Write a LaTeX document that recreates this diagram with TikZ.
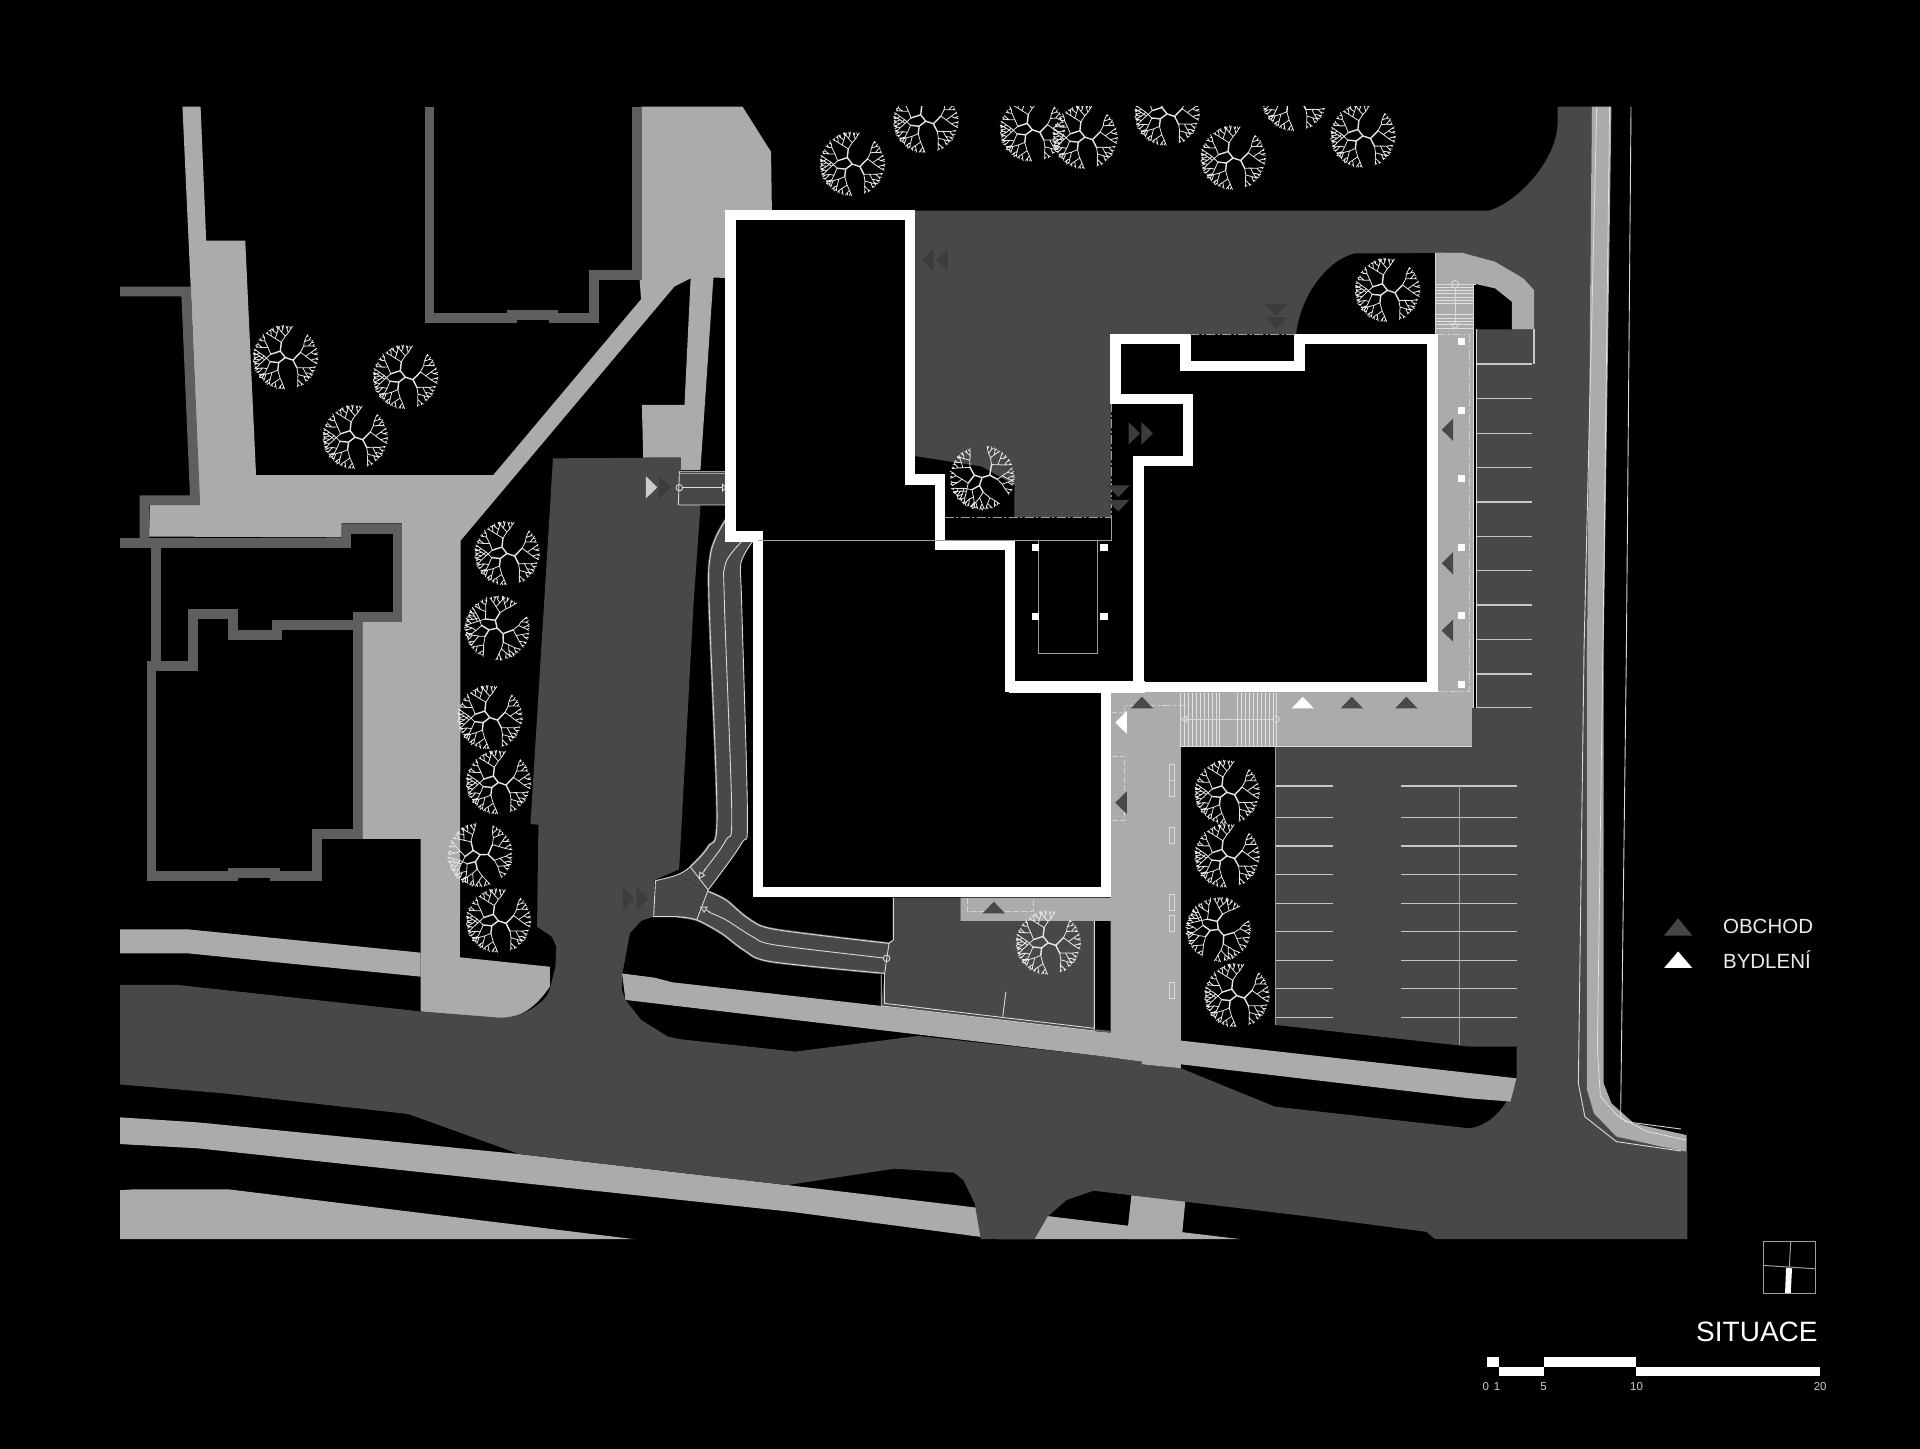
\documentclass[tikz,border=0pt]{standalone}
\usepackage{fontspec}
\setmainfont{Liberation Sans}
\usetikzlibrary{arrows.meta}
\definecolor{lightg}{HTML}{ABABAB}
\definecolor{darkg}{HTML}{484848}
\definecolor{wallg}{HTML}{5E5E5E}
\definecolor{tridark}{HTML}{3C3C3C}
\definecolor{treecol}{HTML}{E6E6E6}
\tikzset{
  wall/.style={draw=wallg,line width=9.8pt,miter limit=10},
  bldg/.style={draw=white,fill=black,line width=10.4pt,line join=miter},
  thin/.style={draw=#1,line width=.9pt},
  thin/.default={white!85!black},
  gline/.style={draw=white!62!black,line width=1pt},
  pline/.style={draw=white!78!black,line width=1.3pt},
  dashline/.style={draw=white!82!black,line width=1pt,dash pattern=on 6pt off 2.5pt},
  dashdot/.style={draw=white!82!black,line width=1pt,dash pattern=on 9pt off 2.5pt on 2pt off 2.5pt},
  treefinest/.style={draw=treecol,line width=.8pt,line cap=round},
  treemainst/.style={draw=treecol,line width=1.4pt,line cap=round},
  opentip/.style={-{Triangle[open,length=7pt,width=7pt]}},
  halo/.style={draw=wallg,line width=2.4pt},
}
% --- one tree symbol, generated once as two path strings
\pgfmathsetseed{23}
\gdef\treemain{}\gdef\treefine{}
\def\TB#1#2#3#4#5{%
 \begingroup
 \ifcase#5 \def\rr{26}\or\def\rr{24}\or\def\rr{21}\or\def\rr{17}\or\def\rr{12.5}\else\def\rr{7}\fi
 \pgfmathsetmacro\th{#3+(rand)*#4*0.35}%
 \pgfmathsetmacro\rn{\rr+(rand)*0.7}%
 \pgfmathsetmacro\xe{\rn*cos(\th)}%
 \pgfmathsetmacro\ye{\rn*sin(\th)}%
 \ifnum#5>3
   \xdef\treemain{\treemain (#1,#2)--(\xe,\ye) }%
 \else
   \xdef\treefine{\treefine (#1,#2)--(\xe,\ye) }%
 \fi
 \ifnum#5>0
   \pgfmathsetmacro\ta{\th-#4/2}%
   \pgfmathsetmacro\tb{\th+#4/2}%
   \pgfmathsetmacro\hw{#4/2}%
   \edef\nexta{\noexpand\TB{\xe}{\ye}{\ta}{\hw}{\the\numexpr#5-1\relax}}%
   \edef\nextb{\noexpand\TB{\xe}{\ye}{\tb}{\hw}{\the\numexpr#5-1\relax}}%
   \nexta\nextb
 \fi
 \endgroup}
\TB{0}{0}{-108}{58}{5}
\TB{0}{0}{14}{58}{5}
\TB{0}{0}{132}{58}{5}
\newcommand\ptree[3]{%
  \draw[treefinest,shift={(#1,#2)},rotate=#3] \treefine;
  \draw[treemainst,shift={(#1,#2)},rotate=#3] \treemain;}
% --- small triangles: tip at (#1,#2)
\newcommand\trU[3]{\fill[#3] (#1,#2)--({#1-9.2},{#2+9.6})--({#1+9.2},{#2+9.6})--cycle;}
\newcommand\trD[3]{\fill[#3] (#1,#2)--({#1-9.2},{#2-9.6})--({#1+9.2},{#2-9.6})--cycle;}
\newcommand\trL[3]{\fill[#3] (#1,#2)--({#1+9.4},{#2-9.2})--({#1+9.4},{#2+9.2})--cycle;}
\newcommand\trR[3]{\fill[#3] (#1,#2)--({#1-9.4},{#2-9.2})--({#1-9.4},{#2+9.2})--cycle;}
\newcommand\sq[2]{\fill[white] ({#1-2.9},{#2-2.9}) rectangle ({#1+2.9},{#2+2.9});}
\begin{document}
\begin{tikzpicture}[x=1.22449pt,y=-1.22449pt]
\fill[black] (0,0) rectangle (1568,1183.3);
\useasboundingbox (0,0) rectangle (1568,1183.3);
% ---------- light paving, upper left
\fill[lightg] (149,87)--(163.8,87)--(168.4,196.5)--(200.3,196.5)--(209.1,388)--(402.8,388)--(523.5,244.4)--(522.4,228.7)--(523.5,87)--(606.3,87)--(629.7,124)--(630.4,175)--(595,175)--(595,227)--(582.6,226.7)--(572,384)--(556,384)--(556,373.7)--(525.3,373.7)--(524.2,330.7)--(559,330.7)--(564,227.3)--(550.8,234)--(376.2,441.5)--(375.6,781.8)--(449,789.5)--(449,805.8)..controls (438,822) and (425,832) .. (406.9,832)--(343.5,826)--(343.5,685)--(295.9,685)--(295.9,503)--(328.4,503)--(328.4,427.4)--(279,427.4)--(279,438.8)--(121.7,438.2)--(122.4,412.4)--(163,412.4)--(155.7,234)--cycle;
% ---------- walls
\draw[wall] (98,238)--(152,238)--(159.3,408.5)--(118,408.5)--(118,443);
\draw[wall] (98,443.2)--(283,443.2)--(283,432)--(324.7,432)--(324.7,503.6)--(292,503.6);
\draw[wall] (127.1,443)--(127.1,541);
\draw[wall] (292,499.6)--(292,681)--(258.6,681)--(258.6,715.4)--(224.5,715.4)--(224.5,712.7)--(190,712.7)--(190,715.4)--(123.8,715.4)--(123.8,544)--(157.9,544)--(157.9,501.7)--(190,501.7)--(190,518.6)--(226.4,518.6)--(226.4,510.4)--(296,510.4);
\draw[wall] (520,87)--(520,224.6)--(485,224.6)--(485,260)--(452,260)--(452,257)--(418,257)--(418,260)--(350.7,260)--(350.7,87);
% ---------- light street strips
\fill[lightg] (98,759)--(153.8,759)--(343.5,778)--(343.5,797.6)--(153.8,778.6)--(98,778.6)--cycle;
\fill[lightg] (98,912.5)--(161.7,916.6)--(424,942.5)--(643,967.8)--(1013.5,1012)--(815,1012)--(646,989.6)--(161.7,937.8)--(98,934.3)--cycle;
\fill[lightg] (924,976)--(968,981)--(965,1012)--(920,1012)--cycle;
\fill[lightg] (98,972)--(108.5,971.3)--(186.7,971.3)--(518,1012)--(98,1012)--cycle;
% ---------- roads
\fill[darkg] (451.6,374.3)--(556,373.7)--(556,385)--(572,413.8)--(566.6,490)--(554.6,710)--(534.5,718.6)--(533.8,748.6)--(523.6,752)--(514.5,762)--(508.3,795)--(507.9,808.5)--(510.8,816.6)--(523.6,833)--(545.5,846.6)--(556.4,848.8)--(649.4,858.8)--(749.6,846)--(898,862.4)--(932.6,867)--(932.6,869.2)--(964.4,872.4)--(1041,903.7)--(1199.5,921.4)..controls (1218,920) and (1234,900) .. (1238.5,880.6)--(1238.5,854.7)--(1199.5,854.7)--(1041.7,837)--(1041.7,609.7)--(1202,609.7)--(1202,578)--(1205.4,578)--(1205.4,269)--(1252.8,269)--(1252.8,236.8)--(1244,227.3)--(1221,213.7)--(1193.7,206.3)--(1106,207)..controls (1085,212) and (1062,240) .. (1058.5,273)--(907.3,273)--(907.3,422.4)--(828.4,422.4)--(828.4,396)--(801.8,381)--(747,372.4)--(747,172)--(1216,172)..controls (1240,165) and (1272,130) .. (1272,100)--(1272,87)--(1300,87)--(1296,531)--(1296,890)--(1301.6,909.2)--(1320,928.2)--(1356.3,936.4)--(1378,940.5)--(1378,1012)--(1172,1012)--(1165,1006)--(1069.8,993.6)--(893,972.4)--(871,980)--(855.4,993.6)--(844.8,1012)--(801,1012)--(796,982.7)--(786.7,963.7)--(779.2,957.7)--(730.4,954.4)--(643,967.8)--(424.2,942.5)--(333.5,909.8)--(183.6,893)--(98,885.6)--(98,804.4)--(145.6,804.4)--(343.5,826)--(406.9,831)..controls (425,832) and (445,820) .. (448.8,808.5)--(453.6,789.4)--(454.3,773)--(450.7,765)--(438.6,756.8)--(439.7,673.5)--(433.2,673)--(444.5,490)--cycle;
% ---------- dark court with the lane
\fill[darkg] (729.6,733)--(729.6,767.6)--(726,769)--(722.3,796)--(719.7,821.5)--(893.7,842)--(893.7,752)--(784,752)--(784,733)--cycle;
% bridge
\fill[darkg] (554,385)--(597,385)--(597,412.4)--(554,412.4)--cycle;
\draw[gline] (555.3,385.2)--(597,385.2) (555.3,387)--(597,387);
\draw[thin] (554,412.4)--(597,412.4) (554.8,385)--(554,412.4);
\draw[thin] (557.5,398.3)--(590,398.3);
\draw[thin] (554.8,398.3) circle[radius=2.7];
\draw[thin] (593,398.3)--(590,395.5)--(590,401)--cycle;
% ramps
\fill[darkg] plot[smooth] coordinates {(592.5,424.6)(585,438)(580,454.6)(579,490)(585.6,667)(578.3,691.4)(563.7,707.8)(552.8,714.6)} --(578.3,726.8)-- plot[smooth] coordinates {(578.3,726.8)(605.6,688.7)(610.4,667)(605.6,490)(605,460)(614.5,442.4)} --cycle;
\fill[darkg] (552.8,714.6)--(535.3,719.2)--(533.8,748.6)--(552.8,748.6)--(569,751.3)--(578.3,727)--cycle;
\fill[darkg] plot[smooth] coordinates {(578.3,728)(592.9,735)(611,750)(633,759)(726,770.4)} --(722.3,794.9)-- plot[smooth] coordinates {(722.3,794.9)(629.3,785.3)(607.4,775.8)(589.2,762.2)(569,751.3)} --cycle;
\draw[halo] plot[smooth] coordinates {(592.5,424.6)(585,438)(580,454.6)(579,490)(585.6,667)(578.3,691.4)(563.7,707.8)};
\draw[halo] plot[smooth] coordinates {(552.8,748.6)(569,751.3)(589.2,762.2)(607.4,775.8)(629.3,785.3)(722.3,794.9)};
\draw[halo] plot[smooth] coordinates {(578.3,728)(592.9,735)(611,750)(633,759)(726,770.4)};
\draw[thin] plot[smooth] coordinates {(592.5,424.6)(585,438)(580,454.6)(579,490)(585.6,667)(578.3,691.4)(563.7,707.8)(552.8,714.6)(535.3,719.2)};
\draw[thin] plot[smooth] coordinates {(614.5,442.4)(605,460)(605.6,490)(610.4,667)(605.6,688.7)(578.3,726.8)};
\draw[thin] plot[smooth] coordinates {(605.6,442.4)(592.5,460)(591.5,490)(597.6,664)(593,686)(575,711)};
\draw[thin,opentip] (576,710)--(570.5,718);
\draw[thin] (535.3,719.2)--(533.8,748.6)--(552.8,748.6);
\draw[thin] plot[smooth] coordinates {(552.8,748.6)(569,751.3)(589.2,762.2)(607.4,775.8)(629.3,785.3)(722.3,794.9)};
\draw[thin] plot[smooth] coordinates {(578.3,728)(592.9,735)(611,750)(633,759)(726,770.4)};
\draw[thin] plot[smooth] coordinates {(579,745)(593,751.3)(614.7,765)(633,771.7)(721.3,782.3)};
\draw[thin,opentip] (580,745)--(571.5,740.3);
\draw[thin] (563.7,707.8)--(578.3,726.8);
\draw[thin] (569,751.3)--(578.3,727);
\draw[thin] (724,782.6) circle[radius=2.7];
\draw[thin] (729.6,733)--(729.6,767.6)--(726,770.4)--(722.3,796);
\draw[thin] (719.7,796)--(719.7,821.5)--(893.7,842)--(893.7,752);
\draw[thin] (722.3,796)--(722.3,819.4)--(893.7,839.8);
\draw[thin] (821.5,809.8)--(818.9,830.3);
% ---------- light paving around the right building
\fill[lightg] (1172,206.3)--(1193.7,206.3)--(1221,213.7)--(1244,227.3)--(1252.8,236.8)--(1252.8,269)--(1234.6,269)--(1234.6,246.4)--(1221,235.5)--(1205.4,232)--(1203,232)--(1203,578)--(1202,578)--(1202,609.7)--(964.4,609.7)--(964.4,849.8)--(1238.5,880.6)--(1233.5,899.6)--(1199.5,896.9)--(964.4,869.2)--(964.4,872.4)--(932.6,869.2)--(932.6,867)--(898.4,862.4)--(510.8,816.6)--(508,795)--(534.5,798.4)--(549,802.2)--(719.7,821.5)--(893.7,842)--(907,843.3)--(907,752)--(784.3,752)--(784.3,733)--(907,733)--(907,565)--(1172,565)--cycle;
\fill[wallg] (893.7,840.5)--(907,841.8)--(907,843.3)--(893.7,842)--cycle;
% ---------- curved strip on the right
\fill[lightg] (1300,87)--(1316,87)--(1309.6,531)--(1309.6,884.7)--(1316,901)--(1334.4,917.4)--(1377.4,927)--(1377.4,940.5)--(1356.3,936.4)--(1320,928.2)--(1301.6,909.2)--(1296,890)--(1296,531)--cycle;
\draw[thin] (1304,87)--(1293.6,531)--(1289,884.7)--(1294.3,912)--(1320,932.3)--(1372.7,940);
\draw[thin] (1332,87)--(1328.2,531)--(1323.5,912)--(1327,916)--(1372.7,922);
\draw[draw=white!90!black,line width=.7pt] (1314.5,87)--(1309,531)--(1304.5,857)--(1307,895.5)--(1321.7,912)--(1345,924)--(1377,931);
% ---------- parking
\foreach \y in {641.9,667.4,690.9,714.3,737.7,760.8,784.2,807.4,830.8}{
  \draw[pline] (1041.7,\y)--(1088.3,\y) (1144.5,\y)--(1238.5,\y);}
\draw[gline] (1191.5,641.9)--(1191.5,853.4);
\draw[gline] (1041.7,609.7)--(1041.7,837);
\foreach \y in {297.3,325.6,353.9,382,410,438,466,494,522,550.4,578}{
  \draw[pline] (1205,\y)--(1251.5,\y);}
\draw[pline] (1252.8,269)--(1252.8,297.3);
\draw[thin] (1203,232)--(1203,578) (1205.4,269)--(1205.4,578);
\draw[thin] (1172,273)--(1172,206.3);
% ---------- stairs and dashed outlines on the pavement
\foreach \x in {963.7,967,970.3,973.6,976.9,980.2,983.5,986.8,990.1,993.4,995.8,1010.5,1013.8,1017.1,1020.4,1023.7,1027,1030.3,1033.6,1036.9,1040.2,1042}{
  \draw[draw=white!88!black,line width=.7pt] (\x,565.6)--(\x,609.7);}
\draw[thin] (964.4,609.7)--(1202,609.7);
\draw[thin,opentip] (1039.3,587.4)--(963.7,587.4);
\draw[thin] (1042,587.4) circle[radius=2.7];
\draw[dashdot] (969.7,576.3)--(918.7,576.3)--(918.7,582.5);
\draw[dashline] (918.7,582.5)--(907.9,581.7);
\draw[dashline] (907.9,617.4)--(918.7,617.4)--(918.7,670.2)--(907.9,670.2);
\draw[dashline] (790.5,733)--(790.5,744.5)--(843.7,744.5)--(843.7,733);
\draw[dashdot] (1173,273)--(1199.7,273)--(1199.7,564.6)--(1173.5,564.6);
\foreach \a/\b in {624.2/637,637.5/650.6,676/688.7,730.3/743.7,747.8/761,802.5/815.5}{
  \draw[thin] (955,\a) rectangle (959,\b);}
% upper stair
\draw[thin] (1172,232)--(1205.4,232);
\foreach \y in {234.5,237.2,239.9,242.6,245.3,247.5,257,259.7,262.4,265.1,267.8}{
  \draw[draw=white!88!black,line width=.7pt] (1173,\y)--(1203,\y);}
\draw[thin] (1188.3,235)--(1188.3,264);
\draw[thin] (1188.3,232) circle[radius=3];
\draw[thin] (1188.3,268.4)--(1184.5,264.5)--(1192,264.5)--cycle;
% ---------- buildings
\draw[bldg] (596.6,175.8)--(743,175.8)--(743,391.7)--(767.7,391.7)--(767.7,445.3)--(824.8,445.3)--(824.8,561)--(903,561)--(903,728.5)--(619,728.5)--(619,438)--(596.6,438)--cycle;
\draw[bldg] (1170,276.8)--(1170,561)--(929.6,561)--(929.6,376.7)--(970.2,376.7)--(970.2,326)--(911,326)--(911,276.8)--(968.2,276.8)--(968.2,298.8)--(1061.4,298.8)--(1061.4,276.8)--cycle;
\fill[white] (824,556)--(935,556)--(935,566)--(824,566)--cycle;
\fill[black] (829.5,449.5) rectangle (925,556.5);
\draw[gline] (619,441.5)--(907.6,441.5);
\draw[gline] (848.5,441.5)--(848.5,533.5)--(896.4,533.5)--(896.4,441.5);
\draw[gline] (907.6,422.8)--(907.6,441.5);
\draw[dashdot,draw=white!62!black] (771.5,422.8)--(907.6,422.8)--(907.6,330);
\draw[dashdot,draw=white!62!black] (972,273.5)--(1058,273.5);
\sq{845.5}{447}\sq{901.6}{447}\sq{845.5}{503.6}\sq{901.6}{503.6}
\foreach \y in {278.7,335,391,447,503,559}{\sq{1193.5}{\y}}
% ---------- trees
\begin{scope}
  \clip (600,87) rectangle (1200,200);
  \ptree{696}{134}{0}\ptree{756}{99}{0}\ptree{843}{106}{0}\ptree{886}{112}{0}
  \ptree{953}{93}{0}\ptree{1007}{129}{0}\ptree{1057}{81}{0}\ptree{1113}{111}{0}
\end{scope}
\ptree{233}{292}{0}\ptree{331}{308}{0}\ptree{290}{357}{0}
\ptree{414}{452}{0}\ptree{406}{513}{-25}\ptree{400}{586}{0}\ptree{407}{639}{0}\ptree{392}{698}{20}\ptree{407}{752}{0}
\ptree{1133}{237}{0}\ptree{802}{390}{35}
\ptree{1002}{647}{0}\ptree{1002}{699}{0}\ptree{995}{759}{-30}\ptree{1010}{813}{0}
\ptree{856}{770}{0}
% ---------- triangles
\trL{753}{212.3}{tridark}\trL{764.5}{212.3}{tridark}
\trD{1042.5}{258}{tridark}\trD{1042.5}{268.6}{tridark}
\trR{931}{353.9}{tridark}\trR{941.6}{353.9}{tridark}
\trD{913.3}{406}{tridark}\trD{913.3}{417.8}{tridark}
\trR{536.8}{398}{white!80!black}\trR{547.7}{398}{tridark}
\trR{518}{734}{tridark}\trR{529.4}{734}{tridark}
\trU{932.6}{569}{darkg}\trU{1063.9}{569}{white}\trU{1104}{569}{darkg}\trU{1148.5}{569}{darkg}
\trL{910.8}{590}{white}\trL{910.8}{655.5}{darkg}
\trU{811.6}{736.4}{darkg}
\trL{1177.4}{351}{darkg}\trL{1177.4}{460}{darkg}\trL{1177.4}{515}{darkg}
% ---------- legend
\fill[wallg!75!black] (1370.5,750)--(1359,764)--(1382,764)--cycle;
\fill[white] (1370.5,777)--(1359,790.5)--(1382,790.5)--cycle;
\node[anchor=west,inner sep=0pt,text=white!92!black,font=\fontsize{20.5}{24}\selectfont] (obchod) at (1407,756.5) {OBCHOD};
\node[anchor=west,inner sep=0pt,text=white!92!black,font=\fontsize{20.5}{24}\selectfont] (bydleni) at (1407,783.5) {BYDLENÍ};
\node[anchor=east,inner sep=0pt,text=white,font=\fontsize{28}{32}\selectfont] (situace) at (1484.5,1088) {SITUACE};
% key plan
\draw[gline] (1440,1013.8) rectangle (1482.8,1056.5);
\draw[gline] (1440,1033.4)--(1482.8,1036.2) (1462.4,1013.8)--(1461.3,1034.8);
\fill[white] (1458.6,1035.4)--(1463.5,1035.8)--(1462.4,1056)--(1457.8,1056)--cycle;
% scale bar
\fill[white] (1214,1108) rectangle (1224,1116);
\fill[white] (1224,1116) rectangle (1261,1124);
\fill[white] (1261,1108) rectangle (1336,1116);
\fill[white] (1336,1116) rectangle (1486,1124);
\node[inner sep=0pt,text=white!80!black,font=\fontsize{11.5}{12}\selectfont] (s0) at (1213.5,1132) {0};
\node[inner sep=0pt,text=white!80!black,font=\fontsize{11.5}{12}\selectfont] (s1) at (1222.5,1132) {1};
\node[inner sep=0pt,text=white!80!black,font=\fontsize{11.5}{12}\selectfont] (s5) at (1260.5,1132) {5};
\node[inner sep=0pt,text=white!80!black,font=\fontsize{11.5}{12}\selectfont] (s10) at (1336.5,1132) {10};
\node[inner sep=0pt,text=white!80!black,font=\fontsize{11.5}{12}\selectfont] (s20) at (1486.5,1132) {20};
\end{tikzpicture}
\end{document}
